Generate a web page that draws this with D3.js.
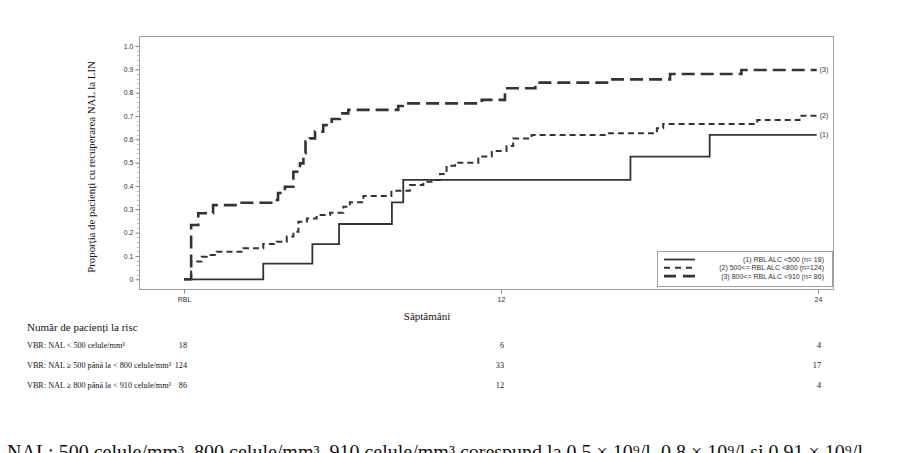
<!DOCTYPE html>
<html>
<head>
<meta charset="utf-8">
<script src="https://cdn.jsdelivr.net/npm/d3@7"></script>
<style>
  body { margin: 0; background: #fff; }
  svg { display: block; }
  .tick text { font-family: "Liberation Sans", Arial, sans-serif; font-size: 7px; fill: #333; }
</style>
</head>
<body>
<div id="chart"></div>
<script>
// weeks (x) and proportion recovered (y) for each group, step curves
const weeks1 = [0, 3.0, 4.86, 5.87, 7.87, 8.3, 16.9, 19.9, 23.95];
const prop1  = [0, 0.067, 0.151, 0.237, 0.33, 0.426, 0.526, 0.619, 0.619];

const weeks2 = [0, 0.27, 0.66, 0.86, 1.24, 2.25, 3.0, 3.51, 3.89, 4.14, 4.33, 4.65, 5.02, 5.53, 6.03, 6.28, 6.79, 7.85,
                8.55, 9.06, 9.37, 9.69, 9.94, 10.26, 11.14, 11.65, 12.21, 12.46, 13.16, 16.0, 17.9, 18.14, 21.7, 23.3, 23.95];
const prop2  = [0, 0.076, 0.097, 0.104, 0.118, 0.133, 0.151, 0.161, 0.183, 0.204, 0.247, 0.261, 0.276, 0.285, 0.311, 0.33, 0.357, 0.38,
                0.404, 0.418, 0.426, 0.451, 0.487, 0.5, 0.526, 0.55, 0.571, 0.604, 0.619, 0.626, 0.647, 0.666, 0.683, 0.701, 0.701];

const weeks3 = [0, 0.27, 0.54, 1.1, 2.18, 3.3, 3.56, 3.82, 4.14, 4.39, 4.52, 4.6, 4.77, 4.96, 5.27, 5.59, 5.9, 6.22,
                8.11, 8.28, 11.27, 12.15, 13.3, 16.1, 18.4, 21.1, 23.95];
const prop3  = [0, 0.233, 0.283, 0.318, 0.328, 0.34, 0.37, 0.397, 0.461, 0.497, 0.54, 0.59, 0.604, 0.633, 0.661, 0.687, 0.711, 0.726,
                0.743, 0.754, 0.769, 0.819, 0.843, 0.857, 0.88, 0.897, 0.897];

const seriesLabels = ["(1)", "(2)", "(3)"];
const legendLabels = ["(1) RBL ALC <500 (n= 18)", "(2) 500<= RBL ALC <800 (n=124)", "(3) 800<= RBL ALC <910 (n= 86)"];

const xTickValues = [0, 12, 24];
const xTickLabels = ["RBL", "12", "24"];
const yTickValues = [0, 0.1, 0.2, 0.3, 0.4, 0.5, 0.6, 0.7, 0.8, 0.9, 1.0];

const riskRows = ["VBR: NAL < 500 celule/mm³", "VBR: NAL ≥ 500 până la < 800 celule/mm³", "VBR: NAL ≥ 800 până la < 910 celule/mm³"];
const riskCounts = [[18, 6, 4], [124, 33, 17], [86, 12, 4]];

const W = 911, H = 453;
const frame = {left: 139, right: 833, top: 36, bottom: 289};

let svg = d3.select("#chart").append("svg")
    .attr("width", W).attr("height", H);

let x = d3.scaleLinear().domain([0, 24]).range([184, 818]);
let y = d3.scaleLinear().domain([0, 1]).range([279.3, 46]);

// frame
svg.append("rect")
    .attr("x", frame.left + 0.5).attr("y", frame.top + 0.5)
    .attr("width", frame.right - frame.left).attr("height", frame.bottom - frame.top)
    .attr("fill", "none").attr("stroke", "#a0a0a0").attr("stroke-width", 1);

// minor ticks on y axis
let minor = d3.range(0, 1.0001, 0.02);
svg.append("g").selectAll("line").data(minor).join("line")
    .attr("x1", frame.left - 2).attr("x2", frame.left)
    .attr("y1", d => Math.round(y(d)) + 0.5).attr("y2", d => Math.round(y(d)) + 0.5)
    .attr("stroke", "#bbb").attr("stroke-width", 1);

let yAxis = svg.append("g")
    .attr("transform", "translate(" + (frame.left + 0.5) + ",0)")
    .call(d3.axisLeft(y).tickValues(yTickValues).tickSize(4).tickPadding(2)
        .tickFormat(d => d === 0 ? "0" : d3.format(".1f")(d)));
yAxis.select(".domain").remove();
yAxis.selectAll("line").attr("stroke", "#888");

let xAxis = svg.append("g")
    .attr("transform", "translate(0," + (frame.bottom + 0.5) + ")")
    .call(d3.axisBottom(x).tickValues(xTickValues).tickSize(4).tickPadding(4)
        .tickFormat((d, i) => xTickLabels[i]));
xAxis.select(".domain").remove();
xAxis.selectAll("line").attr("stroke", "#888");

// curves
const styles = [
    {dash: null, width: 1.8},
    {dash: "6,4", width: 2},
    {dash: "13,6", width: 2.6}
];
const allWeeks = [weeks1, weeks2, weeks3];
const allProps = [prop1, prop2, prop3];

let line = d3.line().x(d => x(d[0])).y(d => y(d[1])).curve(d3.curveStepAfter);

allWeeks.forEach((wk, i) => {
    let pts = wk.map((w, j) => [w, allProps[i][j]]);
    svg.append("path")
        .attr("d", line(pts))
        .attr("fill", "none")
        .attr("stroke", "#333")
        .attr("stroke-width", styles[i].width)
        .attr("stroke-dasharray", styles[i].dash);
    let last = pts[pts.length - 1];
    svg.append("text")
        .attr("x", x(last[0]) + 3).attr("y", y(last[1]))
        .attr("dy", "0.35em")
        .attr("font-family", "Liberation Sans, Arial, sans-serif")
        .attr("font-size", 7).attr("fill", "#333")
        .text(seriesLabels[i]);
});

// legend
let lg = svg.append("g");
lg.append("rect")
    .attr("x", 657.5).attr("y", 251.5).attr("width", 175).attr("height", 35)
    .attr("fill", "#fff").attr("stroke", "#a0a0a0");
legendLabels.forEach((t, i) => {
    let yy = 259.5 + i * 8.3;
    lg.append("line")
        .attr("x1", 664).attr("x2", 695).attr("y1", yy).attr("y2", yy)
        .attr("stroke", "#333").attr("stroke-width", styles[i].width)
        .attr("stroke-dasharray", i === 1 ? "6,5" : i === 2 ? "12,7" : null);
    lg.append("text")
        .attr("x", 824).attr("y", yy).attr("dy", "0.35em")
        .attr("text-anchor", "end")
        .attr("font-family", "Liberation Sans, Arial, sans-serif")
        .attr("font-size", 7).attr("fill", "#333")
        .text(t);
});

// axis titles
svg.append("text")
    .attr("transform", "translate(95,167) rotate(-90)")
    .attr("text-anchor", "middle")
    .attr("font-family", "Liberation Serif, Times New Roman, serif")
    .attr("font-size", 10.8).attr("fill", "#111")
    .text("Proporția de pacienți cu recuperarea NAL la LIN");

svg.append("text")
    .attr("x", 427).attr("y", 320)
    .attr("text-anchor", "middle")
    .attr("font-family", "Liberation Serif, Times New Roman, serif")
    .attr("font-size", 11).attr("fill", "#111")
    .text("Săptămâni");

// risk table
svg.append("text")
    .attr("x", 27).attr("y", 331)
    .attr("font-family", "Liberation Serif, Times New Roman, serif")
    .attr("font-size", 11).attr("fill", "#111")
    .text("Număr de pacienți la risc");

riskRows.forEach((r, i) => {
    let yy = 347.5 + i * 20;
    svg.append("text")
        .attr("x", 27).attr("y", yy)
        .attr("font-family", "Liberation Serif, Times New Roman, serif")
        .attr("font-size", 8.2).attr("fill", "#111")
        .text(r);
    riskCounts[i].forEach((c, j) => {
        svg.append("text")
            .attr("x", x(xTickValues[j]) + 3).attr("y", yy)
            .attr("text-anchor", "end")
            .attr("font-family", "Liberation Serif, Times New Roman, serif")
            .attr("font-size", 8.2).attr("fill", "#111")
            .text(c);
    });
});

// footnote, cut off at the bottom edge as in the source
svg.append("text")
    .attr("x", 7).attr("y", 459)
    .attr("font-family", "Liberation Serif, Times New Roman, serif")
    .attr("font-size", 20).attr("fill", "#111")
    .text("NAL: 500 celule/mm³, 800 celule/mm³, 910 celule/mm³ corespund la 0,5 × 10⁹/l, 0,8 × 10⁹/l și 0,91 × 10⁹/l");
</script>
</body>
</html>
